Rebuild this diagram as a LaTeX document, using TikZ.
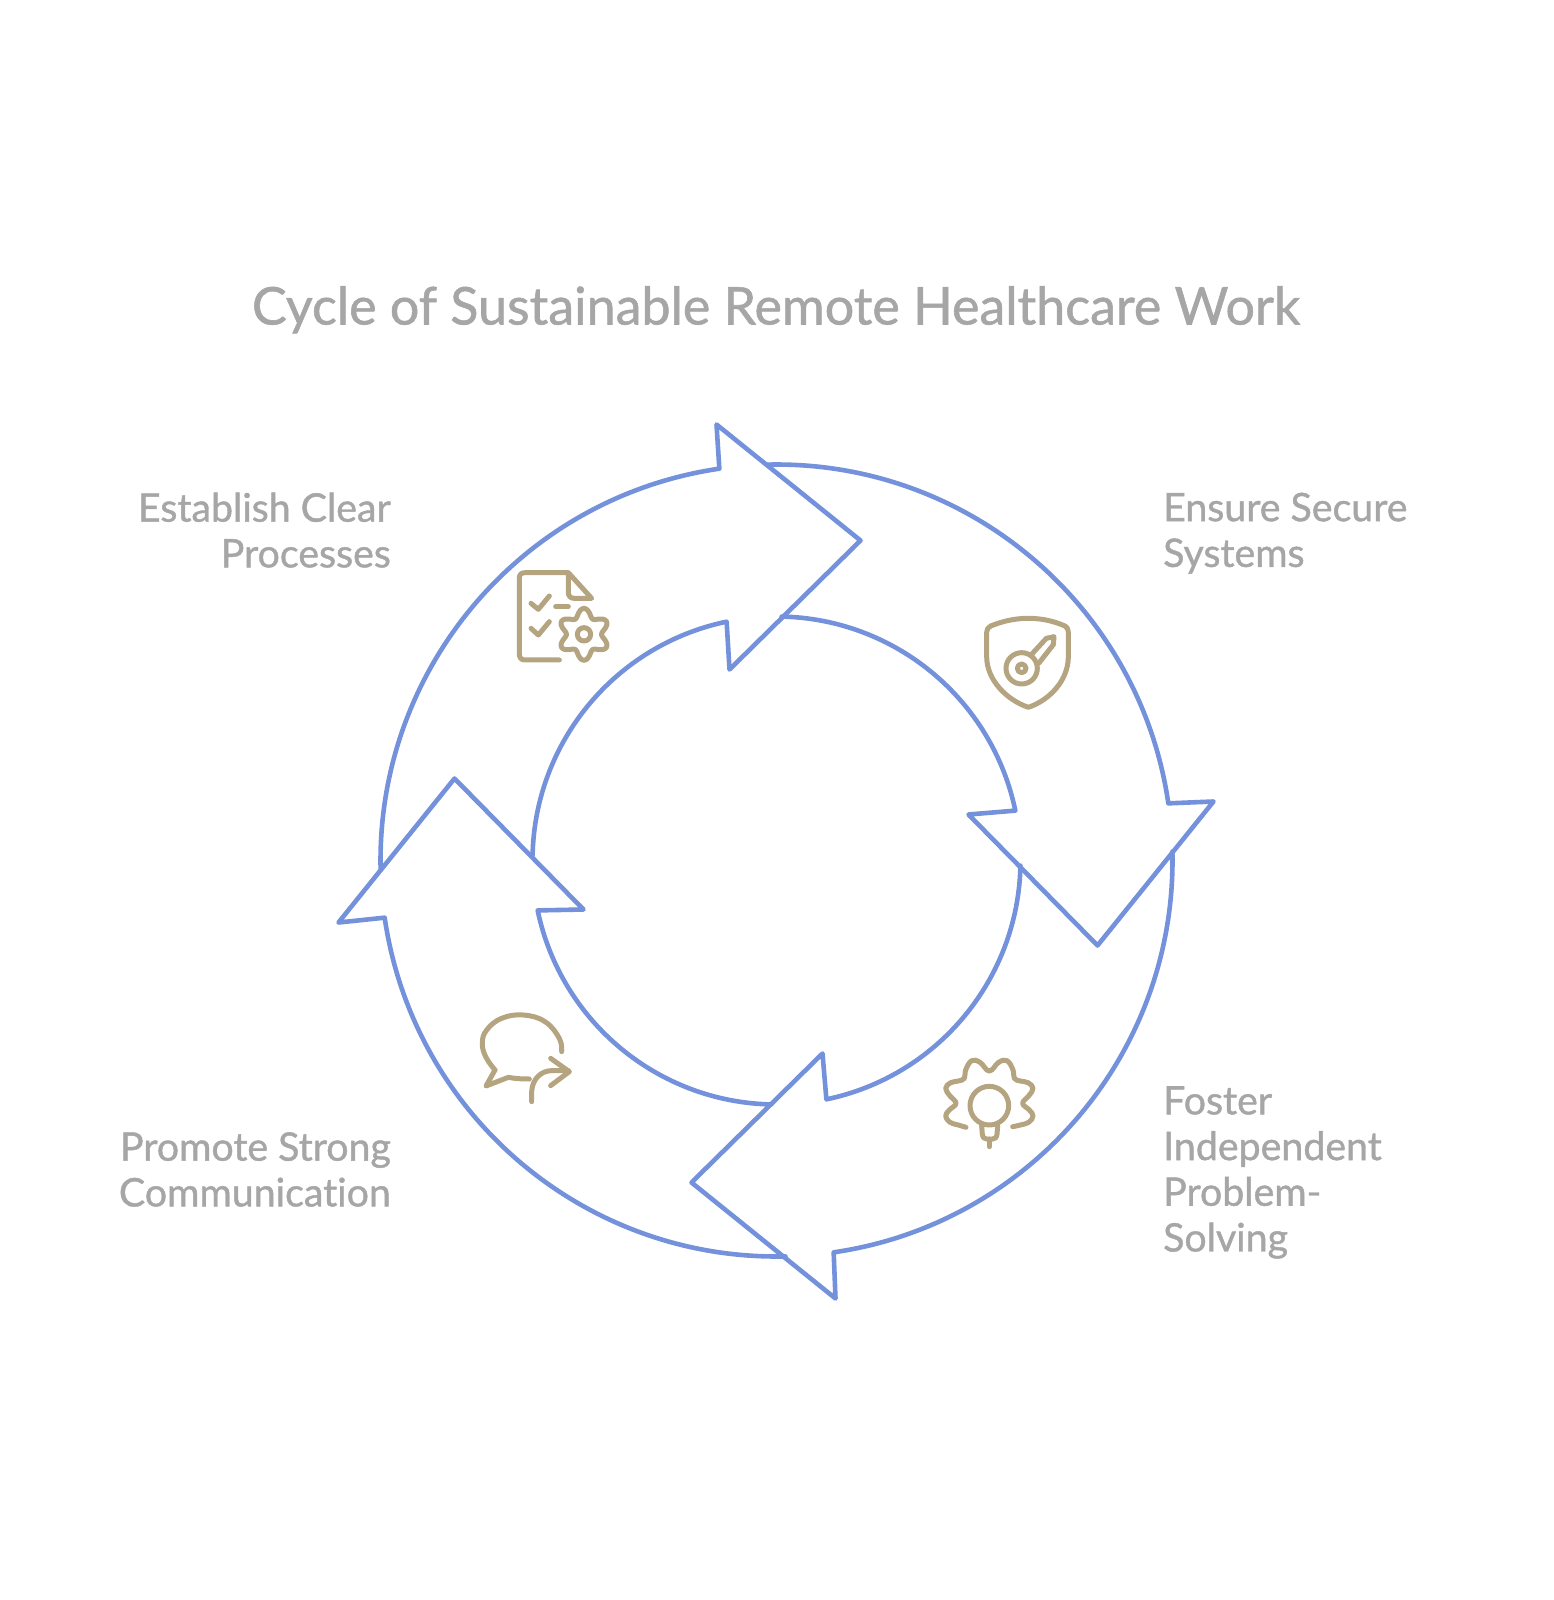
\documentclass[tikz,border=0pt]{standalone}
\usepackage{fontspec}
\setmainfont{Lato}[Ligatures=NoCommon,RawFeature={embolden=1.1}]
\definecolor{cyc}{HTML}{7491DB}
\definecolor{ico}{HTML}{B5A480}
\definecolor{txt}{HTML}{A6A6A6}
\tikzset{
 cycarrow/.style={draw=cyc,line width=4.6pt,line join=round,line cap=round},
 iconline/.style={draw=ico,line width=5pt,line join=round,line cap=round},
 lab/.style={text=txt,inner sep=0pt,font=\fontsize{39.3}{45.7}\selectfont},
}
\begin{document}
\begin{tikzpicture}[x=1pt,y=-1pt]
\useasboundingbox (0,0) rectangle (1553,1600);
\coordinate (c) at (776.5,860.5);
\foreach \r/\u/\v in {0/0/0,90/-2/-2,180/1/-2,270/1/-1}{
\begin{scope}[shift={(c)},rotate=\r]
\draw[cycarrow] (178.7:396) arc[start angle=178.7,end angle=261.7,radius=396]
  -- (-60+\u,-436+\v) -- (84+\u,-320+\v) -- (-47+\u,-191+\v) -- (258.2:244)
  arc[start angle=258.2,end angle=181.2,radius=244];
\end{scope}}
\node[lab,anchor=base,font=\fontsize{52}{60}\selectfont] (title) at (776,324.5) {Cycle of Sustainable Remote Healthcare Work};
\node[lab,anchor=north east,align=right] (a) at (391,492.5) {Establish Clear\\Processes};
\node[lab,anchor=north west,align=left] (b) at (1163,492.5) {Ensure Secure\\Systems};
\node[lab,anchor=north west,align=left] (d) at (1163,1086) {Foster\\Independent\\Problem-\\Solving};
\node[lab,anchor=north east,align=right] (e) at (391,1132) {Promote Strong\\Communication};
% icon 1
\begin{scope}[shift={(500,550)},x=0.3333pt,y=-0.3333pt]
\draw[iconline] (178,330) -- (75,330) .. controls (62,330) and (58,322) .. (58,310) -- (58,85) .. controls (58,75) and (62,68) .. (75,68) -- (205,68) -- (275,145) -- (222,145) .. controls (212,145) and (205,138) .. (205,128) -- (205,68);
\draw[iconline] (93,160) -- (115,178) -- (148,138);
\draw[iconline] (167,170) -- (205,170);
\draw[iconline] (93,235) -- (115,255) -- (148,215);
\draw[iconline] plot[smooth cycle,samples=48,domain=0:352.5] ({252+cos(\x)*(65+13*cos(6*(\x-90)))},{253+sin(\x)*(65+13*cos(6*(\x-90)))});
\draw[iconline] (252,253) circle[radius=20];
\end{scope}
% icon 2
\begin{scope}[shift={(970,600)},x=0.3333pt,y=-0.3333pt]
\draw[iconline] (175,55) .. controls (130,55) and (95,65) .. (62,78) .. controls (54,82) and (50,88) .. (50,97) -- (50,170) .. controls (50,240) and (110,300) .. (175,322) .. controls (240,300) and (295,240) .. (295,170) -- (295,97) .. controls (295,88) and (292,82) .. (285,78) .. controls (255,65) and (220,55) .. (175,55) -- cycle;
\draw[iconline] (155,205) circle[radius=47];
\draw[iconline] (155,205) circle[radius=13];
\draw[iconline] (183,165) -- (229,115) -- (252,110) -- (250,134) -- (206,190);
\end{scope}
% icon 3
\begin{scope}[shift={(930,1045)},x=0.3333pt,y=-0.3333pt]
\draw[iconline] plot[smooth,tension=0.7] coordinates {(108,247) (85,240) (60,232) (47,213) (58,195) (78,175) (60,153) (47,130) (62,113) (85,108) (103,100) (107,75) (125,47) (150,52) (178,78) (206,52) (231,47) (249,75) (253,100) (271,108) (294,113) (309,130) (296,153) (278,175) (298,195) (309,213) (296,232) (271,240) (248,245)};
\draw[iconline] (178,182) circle[radius=58];
\draw[iconline] (155,243) -- (157,268) .. controls (158,278) and (164,282) .. (170,282) -- (188,282) .. controls (194,282) and (200,278) .. (201,268) -- (203,243);
\draw[iconline] (178,282) -- (178,305);
\end{scope}
% icon 4
\begin{scope}[shift={(470,1000)},x=0.3333pt,y=-0.3333pt]
\draw[iconline] plot[smooth,tension=0.7] coordinates {(275,155) (268,115) (225,65) (160,45) (95,55) (50,90) (37,130) (48,172) (75,210)};
\draw[iconline] (75,210) -- (48,258) -- (115,232) .. controls (135,236) and (155,237) .. (178,237);
\draw[iconline] (185,305) -- (185,275) .. controls (187,235) and (215,212) .. (245,212) -- (295,212);
\draw[iconline] (242,175) -- (298,215) -- (242,257);
\end{scope}
\end{tikzpicture}
\end{document}
